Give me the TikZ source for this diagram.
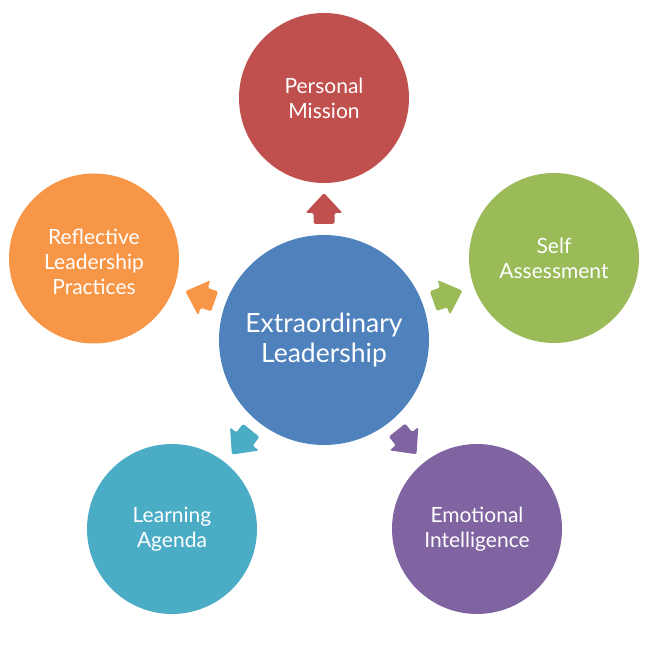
\documentclass[tikz,border=0pt]{standalone}
\usepackage{fontspec}
\setmainfont{Lato}
\begin{document}
\begin{tikzpicture}[x=1pt,y=1pt,
  outer/.style={circle, minimum size=170pt, inner sep=0pt, text=white, align=center, font=\fontsize{21}{25}\selectfont},
  center/.style={circle, minimum size=210pt, inner sep=0pt, text=white, align=center, font=\fontsize{26.5}{30}\selectfont},
  lbl/.style={text=white, align=center, inner sep=0pt, font=\fontsize{21}{25}\selectfont},
  blockarrow/.style={rounded corners=1.5pt}]
\definecolor{cblue}{HTML}{4F81BD}
\definecolor{cred}{HTML}{C0504D}
\definecolor{cgreen}{HTML}{9BBB59}
\definecolor{cpurple}{HTML}{8064A2}
\definecolor{cteal}{HTML}{4BACC6}
\definecolor{corange}{HTML}{F79646}
\useasboundingbox (0,0) rectangle (648,648);
\node[center, fill=cblue] (c) at (324,308) {Extraordinary\\Leadership};
\node[outer, fill=cred] (top) at (324,550) {Personal\\Mission};
\node[outer, fill=cgreen] (right) at (554,390) {Self\\Assessment};
\node[outer, fill=cpurple] (br) at (477,119) {Emotional\\Intelligence};
\node[outer, fill=cteal] (bl) at (172,119) {Learning\\Agenda};
\node[outer, fill=corange] (left) at (94,389.5) {};
\node[lbl] (lefttext) at ([yshift=-3pt]left.center) {Reflective\\Leadership\\Practices};
\foreach \ang/\col in {90/cred, 19.6/cgreen, -51/cpurple, -128.8/cteal, 160.6/corange}{
  \begin{scope}[shift={(c.center)}, rotate=\ang]
    \fill[\col, blockarrow] (116,-10.5) -- (127,-10.5) -- (127,-18.5) -- (147,0) -- (127,18.5) -- (127,10.5) -- (116,10.5) -- cycle;
  \end{scope}
}
\end{tikzpicture}
\end{document}
